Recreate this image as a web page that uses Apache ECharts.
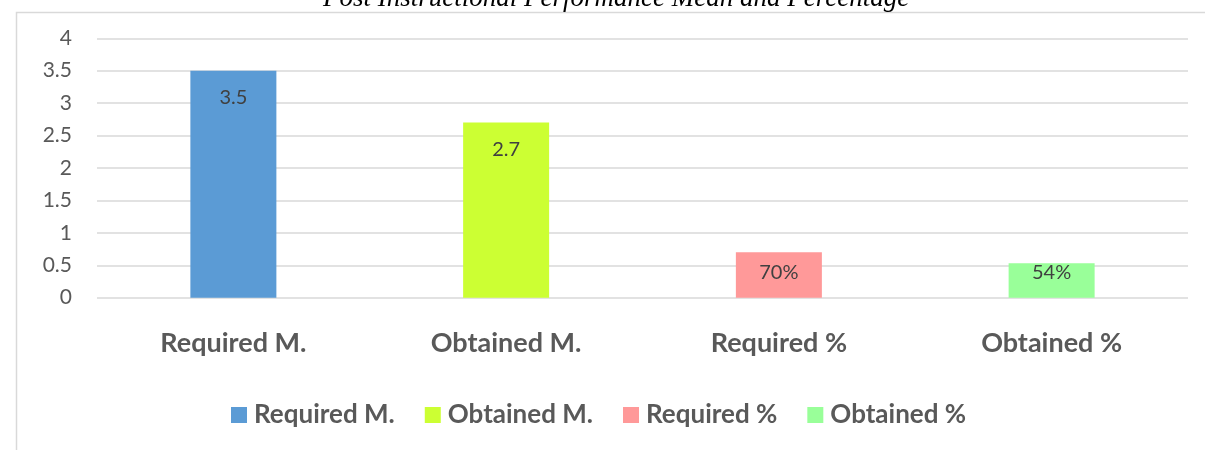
<!DOCTYPE html>
<html><head><meta charset="utf-8">
<script src="https://cdn.jsdelivr.net/npm/echarts@6/dist/echarts.min.js"></script>
<style>html,body{margin:0;padding:0;background:#fff}#c{width:1205px;height:450px}</style>
</head><body><div id="c"></div>
<script>
const categories = ['Required M.', 'Obtained M.', 'Required %', 'Obtained %'];
const values = [3.5, 2.7, 0.7, 0.53];
const valueLabels = ['3.5', '2.7', '70%', '54%'];
const yTicks = [0, 0.5, 1, 1.5, 2, 2.5, 3, 3.5, 4];
const titleText = 'Post Instructional Performance Mean and Percentage';

const colors = ['#5B9BD5', '#CCFF33', '#FF9999', '#99FF99'];
const labelOffsets = [27, 27, 20, 9];

const chart = echarts.init(document.getElementById('c'));
const series = categories.map((name, i) => ({
  name: name,
  type: 'bar',
  barGap: '-100%',
  barWidth: 86,
  itemStyle: { color: colors[i] },
  label: {
    show: true,
    position: ['50%', labelOffsets[i]],
    align: 'center',
    verticalAlign: 'middle',
    formatter: () => valueLabels[i],
    color: '#404040',
    fontFamily: 'Lato',
    fontSize: 20
  },
  data: categories.map((c, j) => j === i ? values[i] : null)
}));

chart.setOption({
  animation: false,
  title: {
    text: titleText,
    left: 318,
    top: -20,
    textStyle: { fontFamily: 'Liberation Serif', fontStyle: 'italic', fontWeight: 'normal', fontSize: 27, color: '#000' }
  },
  graphic: [{
    type: 'rect', left: 14, top: 10, shape: { width: 1300, height: 500 },
    style: { fill: 'none', stroke: '#D9D9D9', lineWidth: 1.5 }, silent: true
  }],
  legend: {
    bottom: 17, left: 226,
    itemWidth: 16, itemHeight: 16, itemGap: 30,
    icon: 'rect',
    textStyle: { fontFamily: 'Lato', fontWeight: 'bold', fontSize: 26, color: '#595959', padding: [0, 0, 0, 2] },
    data: categories
  },
  grid: { left: 97, right: 17, top: 38.3, bottom: 152.3 },
  xAxis: {
    type: 'category', data: categories,
    axisLine: { show: false }, axisTick: { show: false },
    axisLabel: { margin: 32, fontFamily: 'Lato', fontWeight: 'bold', fontSize: 27, color: '#595959' }
  },
  yAxis: {
    type: 'value', min: 0, max: 4, interval: 0.5,
    axisLine: { show: false }, axisTick: { show: false },
    splitLine: { lineStyle: { color: '#D9D9D9', width: 1.5 } },
    axisLabel: { margin: 25, fontFamily: 'Lato', fontSize: 21, color: '#595959',
      formatter: v => yTicks.includes(v) ? String(v) : '' }
  },
  series: series
});
</script></body></html>
